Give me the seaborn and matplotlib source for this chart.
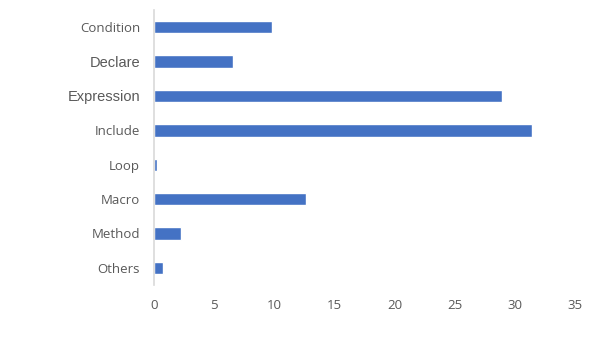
import pandas as pd
import matplotlib.pyplot as plt
import seaborn as sns

# --- Dados ---
categorias = ['Condition', 'Declare', 'Expression', 'Include', 'Loop', 'Macro', 'Method', 'Others']
valores = [9.8, 6.55, 28.95, 31.45, 0.22, 12.6, 2.24, 0.75]
x_ticks = [0, 5, 10, 15, 20, 25, 30, 35]

df = pd.DataFrame({'categoria': categorias, 'valor': valores})

sns.set_style("white")
plt.rcParams['font.family'] = ['Open Sans', 'DejaVu Sans']

fig = plt.figure(figsize=(5.98, 3.49), dpi=100)
ax = fig.add_axes([154 / 598, 1 - 285 / 349, (575 - 154) / 598, 275 / 349])

sns.barplot(
    data=df,
    x='valor',
    y='categoria',
    orient='h',
    color='#4472C4',
    saturation=1,
    width=0.36,
    ax=ax,
)

ax.set_xlim(0, 35)
ax.set_ylim(7.5, -0.5)
ax.set_xticks(x_ticks)
ax.set_xticklabels([str(t) for t in x_ticks])
ax.set_xlabel('')
ax.set_ylabel('')

for s in ['top', 'right', 'bottom']:
    ax.spines[s].set_visible(False)
ax.spines['left'].set_color('#D9D9D9')
ax.spines['left'].set_linewidth(1.2)

ax.tick_params(axis='both', length=0, colors='#595959', labelsize=9.5)
ax.tick_params(axis='y', pad=10)
ax.tick_params(axis='x', pad=10)

# Declare e Expression aparecem em outra fonte no original
for lbl in ax.get_yticklabels():
    if lbl.get_text() in ('Declare', 'Expression'):
        lbl.set_fontfamily(['Liberation Sans', 'DejaVu Sans'])
        lbl.set_fontsize(10.5)
    lbl.set_color('#595959')

plt.savefig('out.png', dpi=100)
